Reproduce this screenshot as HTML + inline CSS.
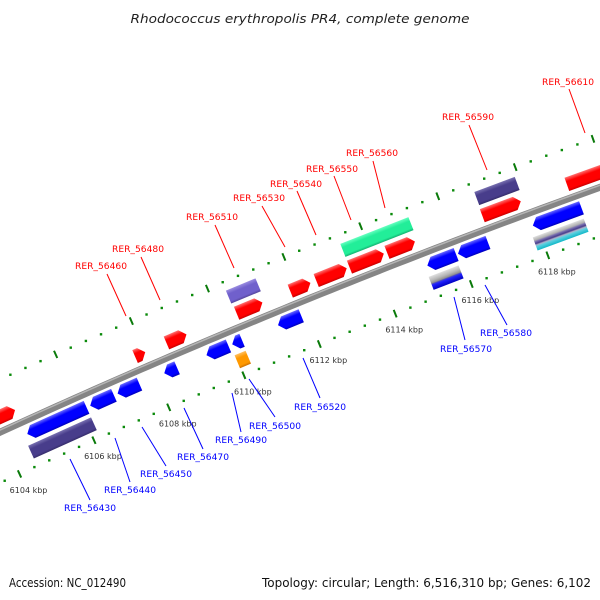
<!DOCTYPE html>
<html><head><meta charset="utf-8"><style>
html,body{margin:0;padding:0;background:#fff;}
svg{display:block;}
</style></head><body>
<svg id="chart" width="600" height="600" viewBox="0 0 600 600" xmlns="http://www.w3.org/2000/svg">
<defs></defs>
<text x="300" y="23" text-anchor="middle" font-family="DejaVu Sans, sans-serif" font-style="italic" font-size="12" fill="#222" textLength="339" lengthAdjust="spacingAndGlyphs">Rhodococcus erythropolis PR4, complete genome</text>
<g id="ticks"></g>
<path id="backbone" fill="none" stroke="#858585" stroke-width="7"/>
<path id="backboneHi" fill="none" stroke="#b5b5b5" stroke-width="1.5"/>
<g id="genes"></g>
<g id="labels" font-family="DejaVu Sans, sans-serif" font-size="9"></g>
<text x="9" y="587" font-family="DejaVu Sans, sans-serif" font-size="12" fill="#111" textLength="117" lengthAdjust="spacingAndGlyphs">Accession: NC_012490</text>
<text x="591" y="587" text-anchor="end" font-family="DejaVu Sans, sans-serif" font-size="12" fill="#111" textLength="329" lengthAdjust="spacingAndGlyphs">Topology: circular; Length: 6,516,310 bp; Genes: 6,102</text>
</svg>
<script>
// ---- data ----
const geneStarts = [6103.63,6107.74,6108.57,6110.42,6111.83,6112.51,6113.38,6114.36,6113.38,6110.39,6116.84,6116.86,6119.03,
                    6104.58,6104.48,6106.26,6106.99,6108.23,6109.35,6110.03,6109.98,6111.24,6115.16,6115.96,6115.09,6117.91,6117.81];
const geneEnds   = [6104.55,6108.01,6109.10,6111.10,6112.36,6113.31,6114.28,6115.09,6115.16,6111.17,6117.84,6117.91,6120.17,
                    6106.16,6106.16,6106.89,6107.57,6108.57,6109.93,6110.29,6110.27,6111.85,6115.91,6116.74,6115.87,6119.17,6119.13];
const geneStrand = [1,1,1,1,1,1,1,1,0,0,1,0,1,
                    -1,0,-1,-1,-1,-1,-1,0,-1,-1,-1,0,-1,0];
const geneRow    = [1,1,1,1,1,1,1,1,2,2,1,2,1,
                    -1,-2,-1,-1,-1,-1,-1,-2,-1,-1,-1,-2,-1,-2];
const geneColor  = ["red","red","red","red","red","red","red","red","green","slate","red","darkslate","red",
                    "blue","darkslate","blue","blue","blue","blue","blue","orange","blue","blue","blue","stripeA","blue","stripeB"];
const tickStart = 6100, tickEnd = 6122, minorStep = 0.4, majorStep = 2;
const labelTicks = [6104,6106,6108,6110,6112,6114,6116,6118];

// ---- geometry ----
const R = 7500, CX = 3132, CY = 7247, K0 = 6111.9, PXK = 41.1;
const PHI0 = -112.2 * Math.PI / 180;
const ROWUP = {1:14, 2:32, "-1":-13, "-2":-31};
function ang(k){ return PHI0 + (k - K0) * PXK / R; }
function pt(k, up){ const a = ang(k); return [CX + (R+up)*Math.cos(a), CY + (R+up)*Math.sin(a)]; }
const NS = "http://www.w3.org/2000/svg";
function mk(tag, attrs, parent){ const e = document.createElementNS(NS, tag); for (const k in attrs) e.setAttribute(k, attrs[k]); parent.appendChild(e); return e; }

(function(){
  let d = "", dh = "";
  for (let k = 6099; k <= 6122.01; k += 0.25){
    const p = pt(k, 0), q = pt(k, 2);
    d += (d ? "L" : "M") + p[0].toFixed(2) + "," + p[1].toFixed(2);
    dh += (dh ? "L" : "M") + q[0].toFixed(2) + "," + q[1].toFixed(2);
  }
  document.getElementById("backbone").setAttribute("d", d);
  document.getElementById("backboneHi").setAttribute("d", dh);
})();

const tg = document.getElementById("ticks");
const nT = Math.round((tickEnd - tickStart) / minorStep);
for (let i = 0; i <= nT; i++){
  const k = tickStart + i * minorStep;
  const major = Math.abs(k / majorStep - Math.round(k / majorStep)) < 1e-6;
  [48, -46].forEach(function(up){
    if (major){
      const a = pt(k, up + 4), b = pt(k, up - 4);
      const l = mk("line", {x1:a[0], y1:a[1], x2:b[0], y2:b[1], stroke:"#0a7a0a", "stroke-width":2}, tg);
      
      
    } else {
      const c = pt(k, up);
      const r = mk("rect", {x:c[0]-1.2, y:c[1]-1.2, width:2.4, height:2.4, fill:"#0a8a0a"}, tg);
      
      
    }
  });
}
labelTicks.forEach(function(k){
  const c = pt(k, -46);
  const t = mk("text", {x:c[0]+9, y:c[1]+19, "text-anchor":"middle", "font-family":"DejaVu Sans, sans-serif", "font-size":"8", fill:"#333"}, tg);
  t.textContent = k + " kbp";
  
  
});

const PAL = {
  red:["#ff7070","#ff0000","#c80000"], blue:["#6a6aff","#0000ff","#0000b8"],
  green:["#66ffc0","#22ee99","#12b070"], slate:["#9a8ce0","#7060cc","#554599"],
  darkslate:["#7870b0","#483d8b","#352c6a"], orange:["#ffc060","#ff9900","#cc7000"]
};
const gg = document.getElementById("genes");
const defs = document.querySelector("defs");
Object.keys(PAL).forEach(function(n){
  const lg = mk("linearGradient", {id:"g_"+n, x1:"0", y1:"0", x2:"0", y2:"1"}, defs);
  mk("stop", {offset:"0", "stop-color":PAL[n][0]}, lg);
  mk("stop", {offset:"0.3", "stop-color":PAL[n][1]}, lg);
  mk("stop", {offset:"0.82", "stop-color":PAL[n][1]}, lg);
  mk("stop", {offset:"1", "stop-color":PAL[n][2]}, lg);
});
(function(){
  const a = mk("linearGradient", {id:"g_stripeA", x1:"0", y1:"0", x2:"0", y2:"1"}, defs);
  [["0","#e0e0e0"],["0.3","#b8b8b8"],["0.5","#909090"],["0.55","#5050c0"],["0.65","#2020ff"],["1","#0000c0"]].forEach(s=>mk("stop",{offset:s[0],"stop-color":s[1]},a));
  const b = mk("linearGradient", {id:"g_stripeB", x1:"0", y1:"0", x2:"0", y2:"1"}, defs);
  [["0","#e0e0e0"],["0.25","#b0b0b0"],["0.35","#7a70b0"],["0.5","#483d8b"],["0.6","#b0b0c8"],["0.7","#60d0e0"],["1","#10b8c8"]].forEach(s=>mk("stop",{offset:s[0],"stop-color":s[1]},b));
})();
const H = 14, AH = 6;
for (let i = 0; i < geneStarts.length; i++){
  const k1 = geneStarts[i], k2 = geneEnds[i];
  const up = ROWUP[geneRow[i]];
  const L = (k2 - k1) * PXK;
  const c = pt((k1 + k2) / 2, up);
  const deg = (ang((k1 + k2) / 2) * 180 / Math.PI) + 90;
  const x0 = -L/2, x1 = L/2, y0 = -H/2, y1 = H/2;
  const ah = Math.min(AH, L * 0.6);
  let pts;
  if (geneStrand[i] === 1) pts = [[x0,y0],[x1-ah,y0],[x1,0],[x1-ah,y1],[x0,y1]];
  else if (geneStrand[i] === -1) pts = [[x0+ah,y0],[x1,y0],[x1,y1],[x0+ah,y1],[x0,0]];
  else pts = [[x0,y0],[x1,y0],[x1,y1],[x0,y1]];
  const g = mk("g", {transform:"translate(" + c[0].toFixed(2) + "," + c[1].toFixed(2) + ") rotate(" + deg.toFixed(3) + ")"}, gg);
  
  
  const p = mk("polygon", {points: pts.map(q => q[0].toFixed(2) + "," + q[1].toFixed(2)).join(" "), fill:"url(#g_" + geneColor[i] + ")"}, g);
  
  
}

const labelNames = ["RER_56460","RER_56480","RER_56510","RER_56530","RER_56540","RER_56550","RER_56560","RER_56590","RER_56610",
                    "RER_56430","RER_56440","RER_56450","RER_56470","RER_56490","RER_56500","RER_56520","RER_56570","RER_56580"];
const labelPos = [[101,269],[138,252],[212,220],[259,201],[296,187],[332,172],[372,156],[468,120],[568,85],
                  [90,511],[130,493],[166,477],[203,460],[241,443],[275,429],[320,410],[466,352],[506,336]];
const leaderLines = [[107,274,126,316],[141,257,160,300],[215,225,234,268],[262,206,285,247],[297,191,316,235],[334,176,351,220],[373,161,385,208],[469,125,487,170],[569,89,585,133],
                     [70,459,90,500],[115,438,130,482],[142,427,166,466],[184,408,203,449],[232,393,241,432],[249,379,275,417],[303,358,320,398],[454,297,465,340],[485,285,507,325]];
const lg2 = document.getElementById("labels");
for (let i = 0; i < labelNames.length; i++){
  const col = i < 9 ? "#ff0000" : "#0000ff";
  const l = leaderLines[i];
  const ln = mk("line", {x1:l[0], y1:l[1], x2:l[2], y2:l[3], stroke:col, "stroke-width":1}, lg2);
  
  
  const t = mk("text", {x:labelPos[i][0], y:labelPos[i][1], "text-anchor":"middle", fill:col, textLength:"52", lengthAdjust:"spacingAndGlyphs"}, lg2);
  t.textContent = labelNames[i];
  
  
}
</script>
</body></html>
